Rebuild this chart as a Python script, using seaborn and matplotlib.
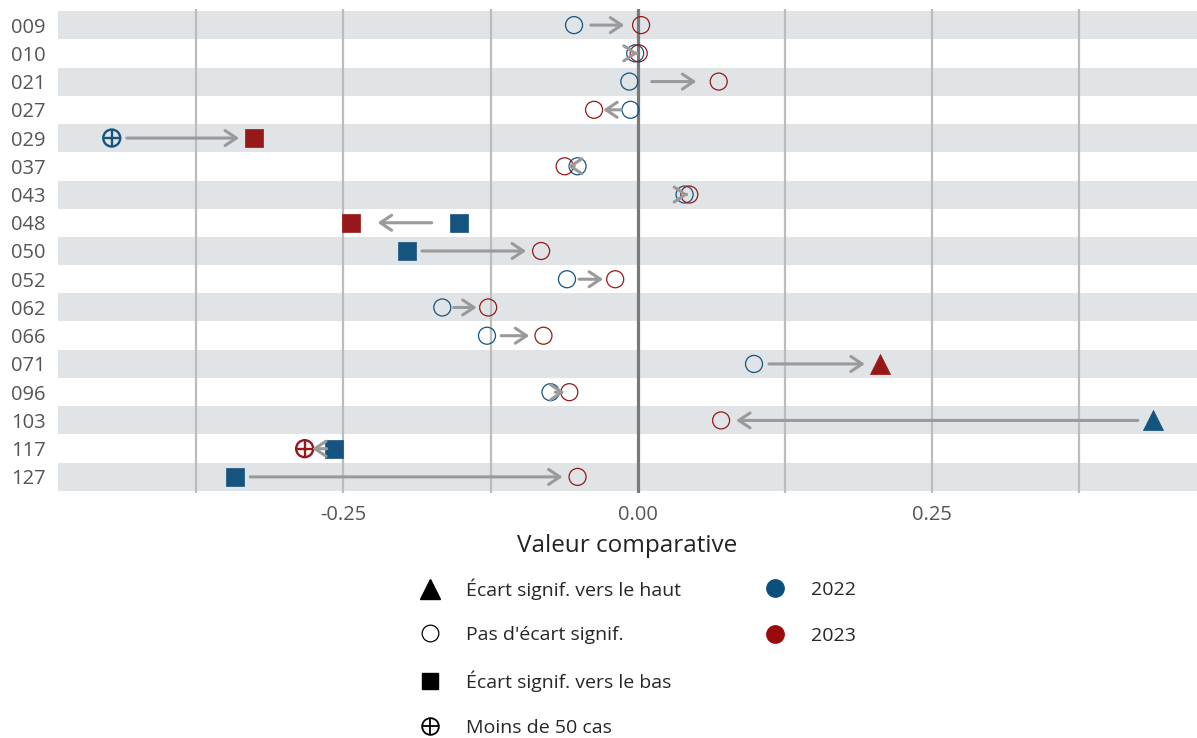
import numpy as np
import pandas as pd
import seaborn as sns
import matplotlib.pyplot as plt
from matplotlib.patches import FancyArrowPatch
from matplotlib.lines import Line2D

regions = ['009', '010', '021', '027', '029', '037', '043', '048', '050',
           '052', '062', '066', '071', '096', '103', '117', '127']
v2022 = [-0.054, -0.002, -0.007, -0.006, -0.447, -0.051, 0.040, -0.152, -0.196,
         -0.060, -0.166, -0.128, 0.099, -0.074, 0.438, -0.258, -0.342]
v2023 = [0.003, 0.001, 0.069, -0.037, -0.326, -0.062, 0.044, -0.244, -0.082,
         -0.019, -0.127, -0.080, 0.206, -0.058, 0.071, -0.283, -0.051]
# up = signif. higher, ns = no signif. diff, down = signif. lower, few = < 50 cases
s2022 = ['ns', 'ns', 'ns', 'ns', 'few', 'ns', 'ns', 'down', 'down',
         'ns', 'ns', 'ns', 'ns', 'ns', 'up', 'down', 'down']
s2023 = ['ns', 'ns', 'ns', 'ns', 'down', 'ns', 'ns', 'down', 'ns',
         'ns', 'ns', 'ns', 'up', 'ns', 'ns', 'few', 'ns']

major_ticks = [-0.25, 0.0, 0.25]
minor_ticks = [-0.375, -0.125, 0.125, 0.375]

legend_labels = ["Écart signif. vers le haut", "Pas d'écart signif.",
                 "Écart signif. vers le bas", "Moins de 50 cas"]
years = ['2022', '2023']

colors = {'2022': '#14547e', '2023': '#961818'}
legend_colors = {'2022': '#0d4f7c', '2023': '#9a0a0a'}

sns.set_style('white')
plt.rcParams['font.family'] = ['Open Sans', 'DejaVu Sans']

n = len(regions)
df = pd.DataFrame({
    'region': regions * 2,
    'pos': list(range(n)) * 2,
    'value': v2022 + v2023,
    'status': s2022 + s2023,
    'year': ['2022'] * n + ['2023'] * n,
})

fig = plt.figure(figsize=(11.97, 7.38), dpi=100)
ax = fig.add_axes([58 / 1197, 245 / 738, 1 - 58 / 1197, 484 / 738])

xmin, xmax = -0.4927, 0.4756
ax.set_xlim(xmin, xmax)
ax.set_ylim(n - 0.43, -0.57)

# alternating row stripes
for i in range(0, n, 2):
    ax.axhspan(i - 0.495, i + 0.495, color='#e1e4e7', lw=0, zorder=0)

for t in minor_ticks + [-0.25, 0.25]:
    ax.axvline(t, color='#bcbcbc', lw=1.6, zorder=1)
ax.axvline(0, color='#7a7a7a', lw=2.3, zorder=1)

sizes = {'up': 210, 'ns': 150, 'down': 150, 'few': 150}
for yr in years:
    col = colors[yr]
    for st in ['up', 'ns', 'down', 'few']:
        sub = df[(df.year == yr) & (df.status == st)]
        if sub.empty:
            continue
        if st == 'up':
            sns.scatterplot(data=sub, x='value', y='pos', marker='^', s=sizes[st],
                            facecolor=col, edgecolor=col, linewidth=0.5,
                            ax=ax, legend=False, zorder=3)
        elif st == 'down':
            sns.scatterplot(data=sub, x='value', y='pos', marker='s', s=sizes[st],
                            facecolor=col, edgecolor=col, linewidth=0.5,
                            ax=ax, legend=False, zorder=3)
        elif st == 'ns':
            sns.scatterplot(data=sub, x='value', y='pos', marker='o', s=sizes[st],
                            facecolor='none', edgecolor=col, linewidth=0.9,
                            ax=ax, legend=False, zorder=3)
        else:
            sns.scatterplot(data=sub, x='value', y='pos', marker='o', s=sizes[st],
                            facecolor='none', edgecolor=col, linewidth=1.7,
                            ax=ax, legend=False, zorder=3)
            sns.scatterplot(data=sub, x='value', y='pos', marker='+', s=sizes[st],
                            color=col, linewidth=1.7, ax=ax, legend=False, zorder=3)

# arrows from 2022 to 2023
px_per_unit = ax.get_position().width * fig.get_figwidth() * fig.dpi / (xmax - xmin)
for i in range(n):
    a, b = v2022[i], v2023[i]
    d = b - a
    sgn = np.sign(d) if d != 0 else 1
    gap = 0.25 * abs(d) if abs(d) < 0.1 else 15 / px_per_unit
    p0 = (a + sgn * gap, i)
    p1 = (b - sgn * gap, i)
    arr = FancyArrowPatch(p0, p1, arrowstyle='->,head_length=0.45,head_width=0.3',
                          mutation_scale=18, color='#9a9a9a', lw=2.2,
                          shrinkA=0, shrinkB=0, zorder=4)
    ax.add_patch(arr)

ax.set_yticks(range(n))
ax.set_yticklabels(regions)
ax.set_xticks(major_ticks)
ax.set_xticklabels(['%.2f' % t for t in major_ticks])
ax.tick_params(axis='y', length=0, pad=9, labelsize=14.5, labelcolor='#555555')
ax.tick_params(axis='x', length=0, pad=9, labelsize=14.5, labelcolor='#555555')
ax.set_xlabel('Valeur comparative', fontsize=17.5, color='#222222', labelpad=6)
ax.set_ylabel('')
sns.despine(ax=ax, left=True, bottom=True)

# legends
shape_handles = [
    Line2D([], [], ls='none', marker='^', ms=14, color='black'),
    Line2D([], [], ls='none', marker='o', ms=12, mfc='none', mec='black', mew=0.9),
    Line2D([], [], ls='none', marker='s', ms=12, color='black'),
    (Line2D([], [], ls='none', marker='o', ms=12, mfc='none', mec='black', mew=1.3),
     Line2D([], [], ls='none', marker='+', ms=12, mec='black', mew=1.3)),
]
fig.legend(shape_handles, legend_labels, loc='upper left',
           bbox_to_anchor=(415 / 1197, 1 - 578 / 738), frameon=False,
           fontsize=14, handlelength=1.5, handletextpad=1.1, labelspacing=1.37,
           borderpad=0, borderaxespad=0)
year_handles = [Line2D([], [], ls='none', marker='o', ms=12.5, color=legend_colors[y])
                for y in years]
fig.legend(year_handles, years, loc='upper left',
           bbox_to_anchor=(760 / 1197, 1 - 581 / 738), frameon=False,
           fontsize=14, handlelength=1.5, handletextpad=1.1, labelspacing=1.42,
           borderpad=0, borderaxespad=0)

fig.savefig('out.png', dpi=100)
